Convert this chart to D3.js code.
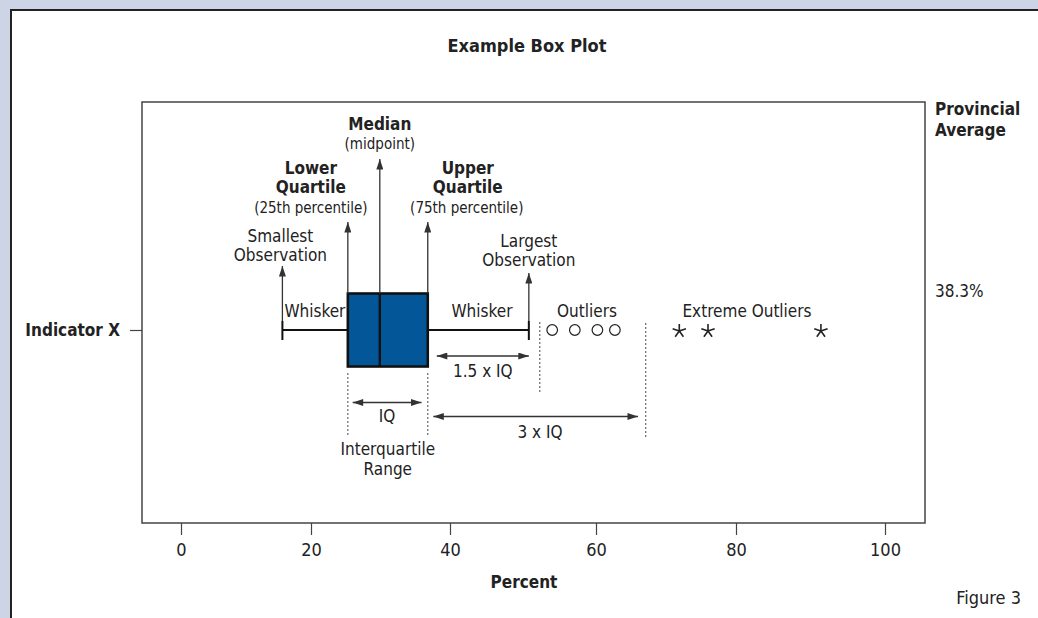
<!DOCTYPE html>
<html>
<head>
<meta charset="utf-8">
<script src="https://cdn.jsdelivr.net/npm/d3@7"></script>
<style>
  html, body { margin: 0; padding: 0; background: #ccd4e6; }
  svg { display: block; }
  text { font-family: "DejaVu Sans Condensed", "Liberation Sans Narrow", "Liberation Sans", sans-serif; fill: #222; }
</style>
</head>
<body>
<svg id="chart" width="1038" height="618"></svg>
<script>
// ---------------- data ----------------
const categories = ["Indicator X"];
const whiskerLow = [15.6];
const lowerQuartile = [25.3];
const medianValue = [29.9];
const upperQuartile = [36.8];
const whiskerHigh = [50.8];
const outliers = [54.0, 57.1, 60.2, 62.7];
const extremeOutliers = [71.9, 76.0, 91.4];
const innerFence = [52.3];
const outerFence = [67.1];
const iqSpan = [26.0, 35.9];
const iq15Span = [38.1, 50.8];
const iq3Span = [37.6, 66.0];
const xTicks = [0, 20, 40, 60, 80, 100];
const provincialAverage = ["38.3%"];

// ---------------- layout ----------------
const W = 1038, H = 618;
const plot = { left: 142, right: 925, top: 102, bottom: 523 };
const FONT = '"DejaVu Sans Condensed", "Liberation Sans Narrow", sans-serif';
const svg = d3.select("#chart");

// panel
svg.append("rect").attr("x", 11).attr("y", 10).attr("width", W).attr("height", H).attr("fill", "#fff");
svg.append("path").attr("d", `M11,${H} V10 H${W}`).attr("fill", "none").attr("stroke", "#222").attr("stroke-width", 2);

// scales
const x = d3.scaleLinear().domain(xTicks).range([181, 311, 450, 596, 736, 885]);
const y = d3.scalePoint().domain(categories).range([137, 523]).padding(0.5);

// defs: arrowheads
const defs = svg.append("defs");
defs.append("marker").attr("id", "arrow")
  .attr("viewBox", "0 0 12 8").attr("refX", 12).attr("refY", 4)
  .attr("markerUnits", "userSpaceOnUse").attr("markerWidth", 12).attr("markerHeight", 7)
  .attr("orient", "auto-start-reverse")
  .append("path").attr("d", "M0,0 L12,4 L0,8 Z").attr("fill", "#333");

// plot frame
svg.append("rect").attr("x", plot.left).attr("y", plot.top)
  .attr("width", plot.right - plot.left).attr("height", plot.bottom - plot.top)
  .attr("fill", "none").attr("stroke", "#444").attr("stroke-width", 1.5);

// axes
const xAxis = svg.append("g").attr("transform", `translate(0,${plot.bottom})`)
  .call(d3.axisBottom(x).tickValues(xTicks).tickFormat(d3.format("d")).tickSize(12).tickPadding(8));
xAxis.select(".domain").remove();
xAxis.selectAll(".tick line").attr("stroke", "#444").attr("stroke-width", 1.2);
xAxis.selectAll(".tick text").attr("font-size", 18).attr("fill", "#222").attr("font-family", FONT);

const yAxis = svg.append("g").attr("transform", `translate(${plot.left},0)`)
  .call(d3.axisLeft(y).tickSize(12).tickPadding(10));
yAxis.select(".domain").remove();
yAxis.selectAll(".tick line").attr("stroke", "#444").attr("stroke-width", 1.2);
yAxis.selectAll(".tick text").attr("font-size", 17).attr("font-weight", "bold").attr("fill", "#222")
  .attr("font-family", FONT);

// helper text
function label(tx, ty, str, opts = {}) {
  return svg.append("text").attr("x", tx).attr("y", ty)
    .attr("text-anchor", opts.anchor || "middle")
    .attr("font-size", opts.size || 17)
    .attr("font-weight", opts.bold ? "bold" : "normal")
    .attr("fill", opts.fill || "#222")
    .text(str);
}

// titles
label(527, 52, "Example Box Plot", { size: 18, bold: true, fill: "#333" });
label(524, 588, "Percent", { size: 17, bold: true });
label(1021, 604, "Figure 3", { size: 18, anchor: "end", fill: "#333" });
label(935, 115, "Provincial", { anchor: "start", bold: true });
label(935, 136, "Average", { anchor: "start", bold: true });
provincialAverage.forEach((v, i) => label(935, y(categories[i]) - 33, v, { anchor: "start" }));

// box plot
const boxH = 73;
categories.forEach((c, i) => {
  const cy = y(c);
  const g = svg.append("g");
  // whisker line
  g.append("line").attr("x1", x(whiskerLow[i])).attr("x2", x(whiskerHigh[i]))
    .attr("y1", cy).attr("y2", cy).attr("stroke", "#111").attr("stroke-width", 2);
  // caps
  [whiskerLow[i], whiskerHigh[i]].forEach(v => {
    g.append("line").attr("x1", x(v)).attr("x2", x(v)).attr("y1", cy - 9).attr("y2", cy + 10)
      .attr("stroke", "#111").attr("stroke-width", 2);
  });
  // box
  g.append("rect").attr("x", x(lowerQuartile[i])).attr("y", cy - boxH / 2)
    .attr("width", x(upperQuartile[i]) - x(lowerQuartile[i])).attr("height", boxH)
    .attr("fill", "#035799").attr("stroke", "#111").attr("stroke-width", 2.6);
  // median
  g.append("line").attr("x1", x(medianValue[i])).attr("x2", x(medianValue[i]))
    .attr("y1", cy - boxH / 2).attr("y2", cy + boxH / 2).attr("stroke", "#111").attr("stroke-width", 2.4);
  // outliers
  g.selectAll("circle.out").data(outliers).join("circle")
    .attr("cx", d => x(d)).attr("cy", cy).attr("r", 5.3)
    .attr("fill", "none").attr("stroke", "#222").attr("stroke-width", 1.2);
  // extreme outliers (5-arm asterisk)
  const star = {
    draw(ctx, size) {
      const r = Math.sqrt(size) / 2;
      for (let k = 0; k < 5; k++) {
        const a = -Math.PI / 2 + k * 2 * Math.PI / 5;
        ctx.moveTo(0, 0);
        ctx.lineTo(r * Math.cos(a), r * Math.sin(a));
      }
    }
  };
  g.selectAll("path.ext").data(extremeOutliers).join("path")
    .attr("transform", d => `translate(${x(d)},${cy + 1})`)
    .attr("d", d3.symbol().type(star).size(196))
    .attr("fill", "none").attr("stroke", "#222").attr("stroke-width", 1.6);

  // vertical annotation arrows
  const up = (v, y1, y2) => svg.append("line").attr("x1", x(v)).attr("x2", x(v))
    .attr("y1", y1).attr("y2", y2).attr("stroke", "#333").attr("stroke-width", 1.3)
    .attr("marker-end", "url(#arrow)");
  up(whiskerLow[i], cy - 9, 266);
  up(lowerQuartile[i], cy - boxH / 2, 222);
  up(medianValue[i], cy - boxH / 2, 159);
  up(upperQuartile[i], cy - boxH / 2, 222);
  up(whiskerHigh[i], cy - 9, 273);

  // dotted guide lines
  const dot = (v, y1, y2) => svg.append("line").attr("x1", x(v)).attr("x2", x(v))
    .attr("y1", y1).attr("y2", y2).attr("stroke", "#666").attr("stroke-width", 1.2)
    .attr("stroke-dasharray", "2,2");
  dot(lowerQuartile[i], 373, 437);
  dot(upperQuartile[i], 373, 437);
  dot(innerFence[i], 322, 392);
  dot(outerFence[i], 323, 437);

  // horizontal double arrows
  const span = (s, yy) => svg.append("line").attr("x1", x(s[0])).attr("x2", x(s[1]))
    .attr("y1", yy).attr("y2", yy).attr("stroke", "#333").attr("stroke-width", 1.3)
    .attr("marker-start", "url(#arrow)").attr("marker-end", "url(#arrow)");
  span(iqSpan, 402.5);
  span(iq15Span, 356);
  span(iq3Span, 416.5);

  // annotation text
  const xm = x(medianValue[i]), xl = x(lowerQuartile[i]), xu = x(upperQuartile[i]);
  label(xm, 130, "Median", { bold: true });
  label(xm, 149, "(midpoint)", { size: 15 });
  label(xl - 37, 174, "Lower", { bold: true });
  label(xl - 37, 193, "Quartile", { bold: true });
  label(xl - 37, 213, "(25th percentile)", { size: 15 });
  label(xu + 40, 174, "Upper", { bold: true });
  label(xu + 40, 193, "Quartile", { bold: true });
  label(xu + 39, 213, "(75th percentile)", { size: 15 });
  label(x(whiskerLow[i]) - 2, 242, "Smallest");
  label(x(whiskerLow[i]) - 2, 261, "Observation");
  label(x(whiskerHigh[i]), 247, "Largest");
  label(x(whiskerHigh[i]), 266, "Observation");
  label(x(whiskerLow[i]) + 2, 317, "Whisker", { anchor: "start" });
  label(482, 317, "Whisker");
  label(587, 317, "Outliers");
  label(747, 317, "Extreme Outliers");
  label((x(iqSpan[0]) + x(iqSpan[1])) / 2, 422, "IQ");
  label((x(iq15Span[0]) + x(iq15Span[1])) / 2, 377, "1.5 x IQ");
  label(540, 438, "3 x IQ");
  label((xl + xu) / 2, 455, "Interquartile");
  label((xl + xu) / 2, 475, "Range");
});
</script>
</body>
</html>
